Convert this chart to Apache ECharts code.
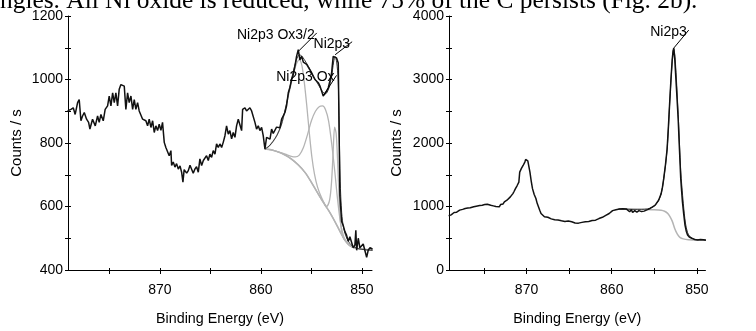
<!DOCTYPE html>
<html><head><meta charset="utf-8">
<script src="https://cdn.jsdelivr.net/npm/echarts@6/dist/echarts.min.js"></script>
<style>html,body{margin:0;padding:0;background:#fff}#c{width:756px;height:331px}</style>
</head><body><div id="c"></div>
<script>
const caption = "ngles. All Ni oxide is reduced, while 75% of the C persists (Fig. 2b).";
const xTicks = [850, 855, 860, 865, 870, 875];
const xLabels = [850, 860, 870];
const leftYTicks = [400, 500, 600, 700, 800, 900, 1000, 1100, 1200];
const leftYLabels = [400, 600, 800, 1000, 1200];
const rightYTicks = [0, 500, 1000, 1500, 2000, 2500, 3000, 3500, 4000];
const rightYLabels = [0, 1000, 2000, 3000, 4000];
const xTitle = "Binding Energy (eV)";
const yTitle = "Counts / s";

const leftData = [[879.14,901],[878.98,895],[878.81,906],[878.58,911],[878.39,890],[878.15,927],[877.99,937],[877.82,870],[877.66,885],[877.49,896],[877.26,875],[877.06,865],[876.93,844],[876.67,875],[876.40,854],[876.17,885],[876.01,865],[875.84,890],[875.61,870],[875.42,906],[875.18,917],[875.02,948],[874.85,917],[874.68,958],[874.52,927],[874.36,958],[874.19,917],[874.03,969],[873.86,984],[873.70,990],[873.53,979],[873.37,906],[873.20,958],[873.04,927],[872.87,948],[872.70,906],[872.54,937],[872.38,906],[872.21,927],[872.05,901],[871.88,906],[871.71,875],[871.55,880],[871.39,870],[871.22,854],[871.06,875],[870.89,849],[870.72,870],[870.56,833],[870.40,854],[870.23,839],[870.07,859],[869.90,840],[869.74,865],[869.57,802],[869.41,786],[869.24,792],[869.08,760],[868.91,776],[868.84,729],[868.68,740],[868.51,724],[868.35,735],[868.18,718],[868.01,728],[867.85,708],[867.72,677],[867.60,716],[867.52,720],[867.35,705],[867.19,713],[867.02,730],[866.86,724],[866.70,705],[866.53,718],[866.37,725],[866.20,708],[866.04,750],[865.87,729],[865.70,745],[865.54,740],[865.38,760],[865.21,745],[865.05,765],[864.88,755],[864.72,776],[864.55,765],[864.39,797],[864.22,786],[864.06,797],[863.89,786],[863.73,802],[863.56,823],[863.40,854],[863.23,828],[863.07,839],[862.90,813],[862.74,833],[862.57,818],[862.41,854],[862.24,875],[862.08,870],[861.91,839],[861.81,906],[861.70,900],[861.58,911],[861.42,901],[861.25,906],[861.09,911],[860.92,901],[860.76,896],[860.59,865],[860.43,844],[860.26,854],[860.10,839],[859.93,849],[859.77,823],[859.60,781],[859.44,818],[859.27,823],[859.10,812],[858.94,844],[858.78,830],[858.61,833],[858.45,850],[858.28,854],[858.12,848],[857.95,875],[857.79,870],[857.62,896],[857.46,917],[857.29,958],[857.13,975],[856.96,1000],[856.80,1015],[856.63,1042],[856.47,1073],[856.30,1094],[856.14,1062],[855.97,1073],[855.80,1055],[855.64,1052],[855.47,1048],[855.31,1042],[855.15,1030],[854.98,1021],[854.82,1010],[854.65,1000],[854.49,995],[854.32,990],[854.16,980],[853.99,974],[853.83,948],[853.66,953],[853.50,963],[853.33,974],[853.17,995],[853.00,1021],[852.84,1073],[852.67,1078],[852.51,1068],[852.34,1052],[852.25,820],[852.18,635],[852.01,553],[851.85,540],[851.68,521],[851.52,510],[851.35,490],[851.19,505],[851.02,500],[850.86,470],[850.69,479],[850.60,525],[850.52,462],[850.36,500],[850.20,470],[850.03,469],[849.87,482],[849.70,479],[849.53,440],[849.37,463],[849.20,470],[849.04,469],[848.95,466]];
const leftEnvelope = [[859.60,781],[859.2,790],[858.8,805],[858.4,825],[858.0,855],[857.6,905],[857.2,965],[856.8,1025],[856.5,1060],[856.2,1078],[855.9,1072],[855.5,1052],[855.1,1030],[854.7,1005],[854.3,983],[853.9,962],[853.6,955],[853.3,970],[853.0,1010],[852.8,1055],[852.65,1072],[852.5,1055],[852.35,1000],[852.25,850],[852.15,680],[852.0,580],[851.8,530],[851.5,500],[851.1,480],[850.6,470],[850.0,465],[849.4,463],[848.95,462]];
const leftBackground = [[859.60,781],[859.0,779],[858.3,772],[857.6,762],[857.0,750],[856.3,731],[855.6,706],[855.0,676],[854.3,638],[853.7,607],[853.3,588],[852.9,566],[852.4,536],[852.0,511],[851.6,490],[851.2,477],[850.6,469],[850.0,466],[848.95,463]];
const leftOx32 = [[859.60,781],[859.2,790],[858.8,805],[858.4,825],[858.0,855],[857.6,903],[857.2,960],[856.8,1015],[856.5,1048],[856.2,1062],[855.95,1045],[855.7,990],[855.45,915],[855.2,830],[854.95,755],[854.7,703],[854.4,662],[854.0,628],[853.6,602],[853.3,588],[852.9,566],[852.4,536],[852.0,511],[851.6,490],[851.2,477],[850.6,469],[850.0,466],[848.95,463]];
const leftOx = [[859.60,781],[859.0,778],[858.3,772],[857.6,765],[857.0,758],[856.6,756],[856.2,762],[855.8,785],[855.4,825],[855.0,870],[854.6,900],[854.2,915],[853.9,917],[853.6,905],[853.3,870],[853.0,800],[852.7,715],[852.4,620],[852.1,545],[851.8,505],[851.5,488],[851.2,477],[850.6,469],[850.0,466],[848.95,463]];
const leftMetal = [[859.60,781],[859.0,779],[858.3,772],[857.6,762],[857.0,750],[856.3,731],[855.6,706],[855.0,676],[854.3,638],[853.8,612],[853.5,600],[853.2,620],[853.0,680],[852.85,770],[852.7,850],[852.55,830],[852.4,740],[852.25,620],[852.1,545],[851.9,505],[851.6,490],[851.2,477],[850.6,469],[850.0,466],[848.95,463]];

const rightData = [[879.14,855],[879.0,875],[878.85,868],[878.7,890],[878.5,905],[878.35,917],[878.2,910],[878.0,930],[877.85,943],[877.7,935],[877.5,955],[877.35,950],[877.2,969],[877.05,960],[876.9,975],[876.75,970],[876.6,979],[876.4,990],[876.2,995],[876.05,985],[875.9,1005],[875.7,1000],[875.5,1015],[875.35,1005],[875.2,1021],[875.05,1025],[874.9,1030],[874.75,1020],[874.6,1036],[874.4,1025],[874.2,1020],[874.05,1030],[873.9,1010],[873.75,1015],[873.6,1000],[873.4,1010],[873.2,995],[873.05,1030],[872.9,1047],[872.75,1040],[872.6,1073],[872.45,1080],[872.3,1099],[872.1,1120],[871.9,1151],[871.75,1170],[871.6,1203],[871.45,1240],[871.3,1281],[871.1,1330],[870.9,1385],[870.8,1542],[870.6,1600],[870.4,1646],[870.2,1700],[870.1,1740],[869.95,1745],[869.85,1720],[869.6,1542],[869.45,1400],[869.3,1281],[869.1,1190],[868.9,1125],[868.75,1050],[868.6,995],[868.45,940],[868.3,890],[868.1,860],[867.9,839],[867.7,825],[867.5,830],[867.3,812],[867.1,805],[866.9,800],[866.7,790],[866.5,795],[866.3,786],[866.1,780],[865.9,775],[865.7,782],[865.5,765],[865.3,760],[865.1,770],[864.9,752],[864.7,760],[864.5,745],[864.3,740],[864.1,748],[863.9,738],[863.7,745],[863.5,750],[863.3,755],[863.1,760],[862.9,770],[862.7,765],[862.5,775],[862.3,780],[862.1,790],[861.9,785],[861.7,800],[861.5,810],[861.3,820],[861.1,830],[860.9,840],[860.7,860],[860.5,875],[860.3,890],[860.1,910],[859.9,935],[859.7,955],[859.5,950],[859.3,965],[859.1,960],[858.9,970],[858.7,965],[858.5,958],[858.3,962],[858.1,955],[857.9,917],[857.8,945],[857.7,950],[857.55,905],[857.45,890],[857.3,935],[857.2,943],[857.05,910],[856.95,906],[856.8,935],[856.65,925],[856.5,920],[856.35,935],[856.2,927],[856.0,945],[855.8,950],[855.5,969],[855.2,995],[854.9,1021],[854.7,1060],[854.5,1099],[854.35,1150],[854.2,1203],[854.05,1300],[853.9,1438],[853.7,1650],[853.5,1906],[853.35,2250],[853.2,2635],[853.05,3000],[852.9,3313],[852.8,3450],[852.72,3495],[852.6,3313],[852.4,2850],[852.2,2375],[852.05,1900],[851.9,1438],[851.8,1250],[851.7,1073],[851.55,880],[851.4,708],[851.25,610],[851.1,552],[850.9,520],[850.6,500],[850.3,482],[850.1,478],[849.9,474],[849.7,465],[849.6,480],[849.4,458],[849.25,475],[849.1,462],[848.95,470]];
const rightEnvelope = [[859.2,960],[858.5,958],[857.5,955],[856.5,955],[855.8,962],[855.3,985],[854.9,1020],[854.5,1095],[854.2,1200],[853.9,1430],[853.5,1900],[853.2,2620],[852.9,3290],[852.72,3480],[852.55,3320],[852.2,2450],[851.9,1560],[851.6,1050],[851.35,740],[851.1,590],[850.8,520],[850.4,490],[850.0,478],[849.5,474],[848.95,473]];
const rightBackground = [[859.2,960],[858.0,960],[857.0,958],[856.0,955],[855.0,950],[854.2,940],[853.8,925],[853.5,900],[853.2,850],[852.9,770],[852.6,650],[852.3,565],[852.0,515],[851.6,490],[851.0,478],[850.0,474],[848.95,474]];

const peakLabels = [
  {panel: 0, text: "Ni2p3 Ox3/2", at: [856.25, 1090], d: [18, -18]},
  {panel: 0, text: "Ni2p3", at: [852.65, 1078], d: [17, -13]},
  {panel: 0, text: "Ni2p3 Ox", at: [853.8, 950], d: [13, -20]},
  {panel: 1, text: "Ni2p3", at: [852.72, 3495], d: [15, -18]}
];

const FONT = "Liberation Sans, Arial, sans-serif";
const chart = echarts.init(document.getElementById('c'), null, {renderer: 'canvas'});
const grids = [
  {left: 68, top: 16, width: 304, height: 256},
  {left: 449, top: 16, width: 304, height: 256}
];
const plain = function (v) { return String(v); };
function xAxes(gi) {
  const base = {type: 'value', gridIndex: gi, position: 'bottom', min: 849, max: 879.1, inverse: true, splitLine: {show: false}};
  return [
    Object.assign({}, base, {
      axisLine: {show: true, onZero: false, lineStyle: {color: '#000', width: 1}},
      axisTick: {show: true, inside: false, length: 4, customValues: xTicks, lineStyle: {color: '#000'}},
      axisLabel: {show: true, customValues: xLabels, formatter: plain, margin: 13, color: '#000', fontSize: 14, fontFamily: FONT},
      name: xTitle, nameLocation: 'middle', nameGap: 42,
      nameTextStyle: {color: '#000', fontSize: 14.3, fontFamily: FONT}
    }),
    Object.assign({}, base, {
      axisLine: {show: false, onZero: false},
      axisTick: {show: true, inside: true, length: 2, customValues: xTicks, lineStyle: {color: '#000'}},
      axisLabel: {show: false}
    })
  ];
}
function yAxes(gi, mn, mx, ticks, labels, gap) {
  const base = {type: 'value', gridIndex: gi, position: 'left', min: mn, max: mx, splitLine: {show: false}};
  return [
    Object.assign({}, base, {
      axisLine: {show: true, onZero: false, lineStyle: {color: '#000', width: 1}},
      axisTick: {show: true, inside: false, length: 3, customValues: ticks, lineStyle: {color: '#000'}},
      axisLabel: {show: true, customValues: labels, formatter: plain, margin: 5, color: '#000', fontSize: 14, fontFamily: FONT},
      name: yTitle, nameLocation: 'middle', nameGap: gap,
      nameTextStyle: {color: '#000', fontSize: 15, fontFamily: FONT}
    }),
    Object.assign({}, base, {
      axisLine: {show: false, onZero: false},
      axisTick: {show: true, inside: true, length: 3, customValues: ticks, lineStyle: {color: '#000'}},
      axisLabel: {show: false}
    })
  ];
}
function line(data, xi, color, width, smooth) {
  return {type: 'line', xAxisIndex: xi, yAxisIndex: xi, data: data, showSymbol: false, symbol: 'none',
    smooth: smooth, lineStyle: {color: color, width: width}, silent: true, animation: false, clip: true, z: 2};
}
const GRAY = '#b4b4b4';
chart.setOption({
  animation: false,
  backgroundColor: '#fff',
  grid: grids,
  xAxis: xAxes(0).concat(xAxes(1)),
  yAxis: yAxes(0, 400, 1200, leftYTicks, leftYLabels, 44).concat(yAxes(1, 0, 4000, rightYTicks, rightYLabels, 45)),
  series: [
    line(leftBackground, 0, GRAY, 1.5, 0.3),
    line(leftOx32, 0, GRAY, 1.3, 0.3),
    line(leftOx, 0, GRAY, 1.3, 0.3),
    line(leftMetal, 0, GRAY, 1.3, 0.3),
    line(leftEnvelope, 0, '#3a3a3a', 1, 0.3),
    line(leftData, 0, '#111', 1.5, false),
    line(rightBackground, 2, GRAY, 1.5, 0.3),
    line(rightEnvelope, 2, '#3a3a3a', 1, 0.3),
    line(rightData, 2, '#111', 1.5, false)
  ]
});
const gfx = [{
  type: 'text', left: 0, top: -11, silent: true,
  style: {text: caption, font: '25.4px "Liberation Serif", "Times New Roman", serif', fill: '#000'}
}];
peakLabels.forEach(function (p) {
  const ai = p.panel * 2;
  const pt = chart.convertToPixel({xAxisIndex: ai, yAxisIndex: ai}, p.at);
  const end = [pt[0] + p.d[0], pt[1] + p.d[1]];
  gfx.push({type: 'line', silent: true, shape: {x1: pt[0], y1: pt[1], x2: end[0], y2: end[1]},
    style: {stroke: '#000', lineWidth: 1}, z: 10});
  gfx.push({type: 'text', silent: true, x: end[0] - 2, y: end[1] + 2, z: 11,
    style: {text: p.text, font: '14px ' + FONT, fill: '#000', align: 'right', verticalAlign: 'middle'}});
});
chart.setOption({graphic: gfx});
</script>
</body></html>
